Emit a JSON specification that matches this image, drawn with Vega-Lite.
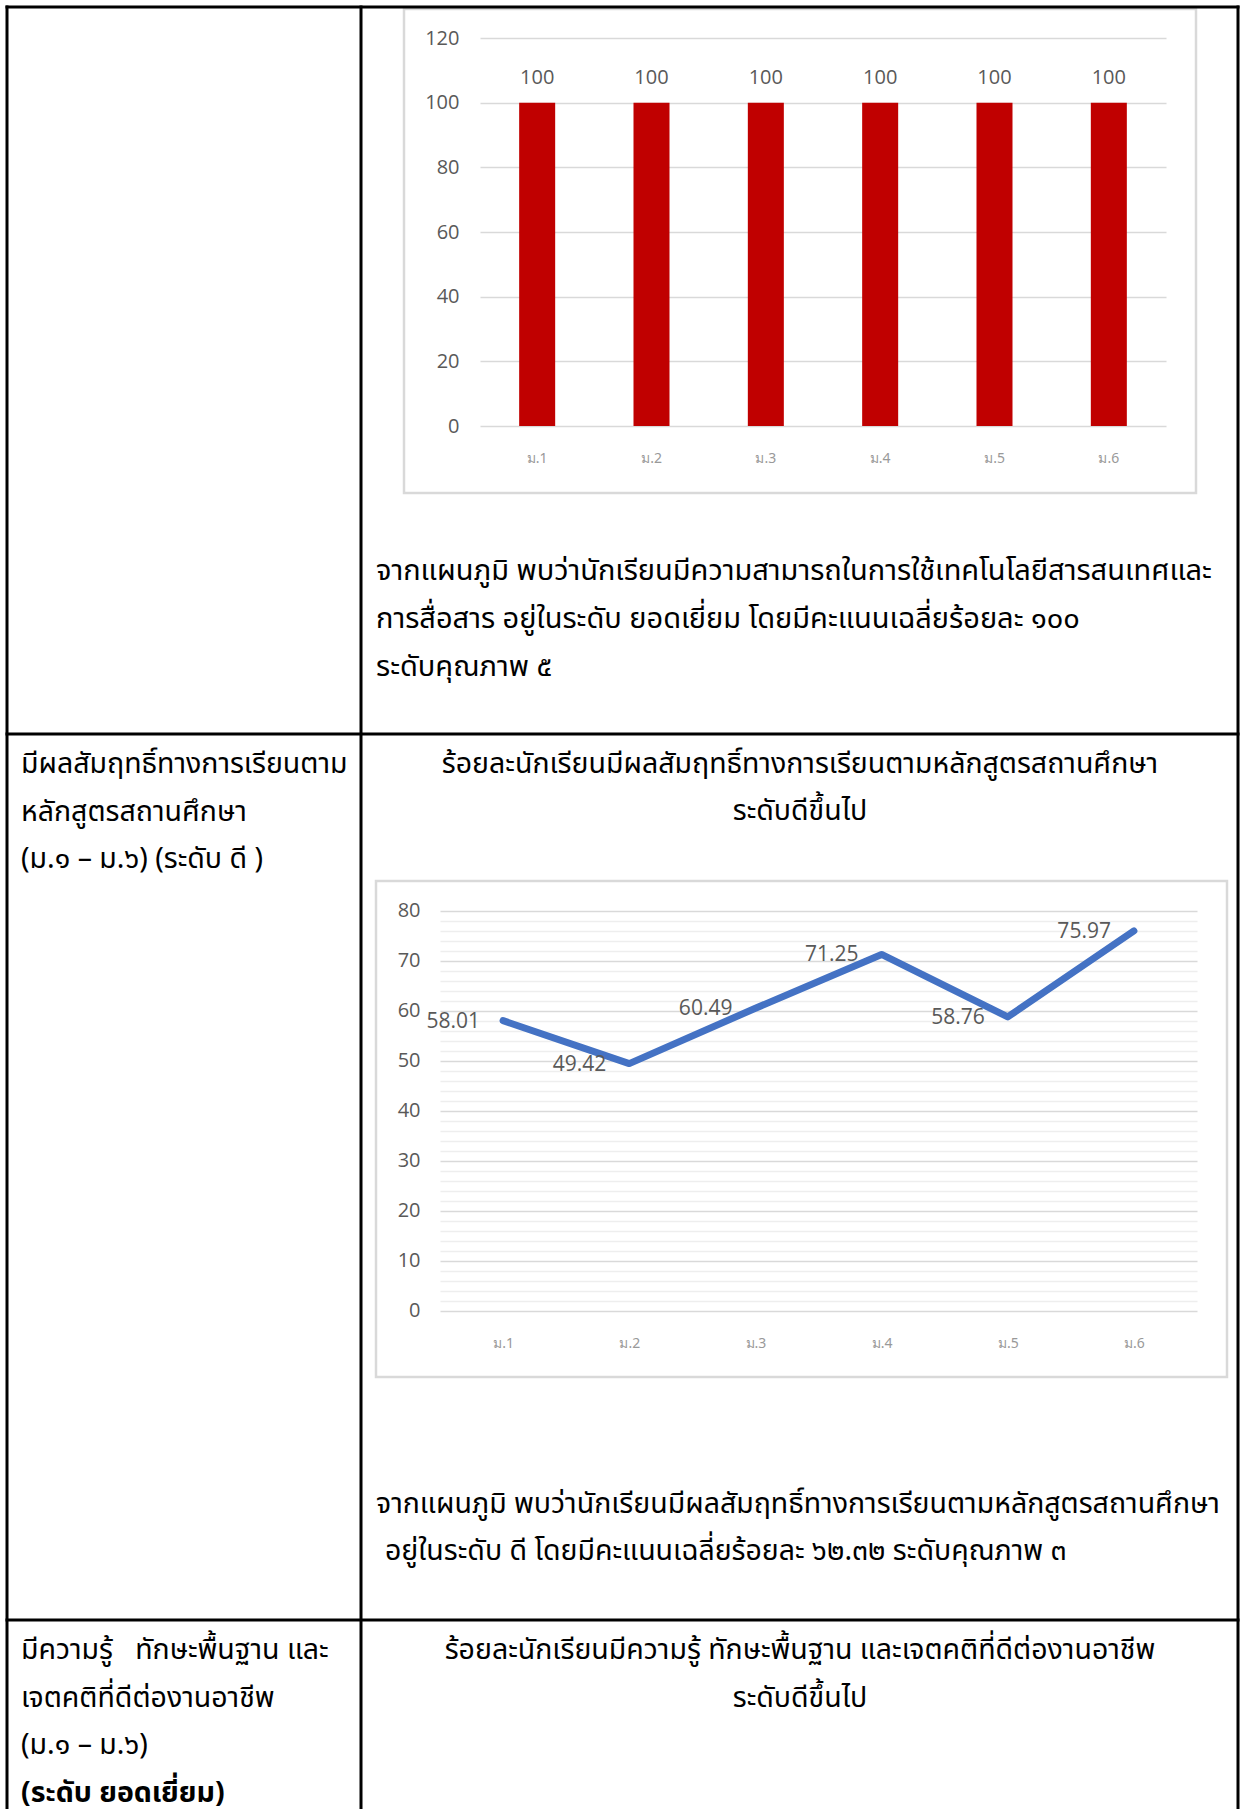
{
  "$schema": "https://vega.github.io/schema/vega-lite/v6.json",
  "width": 1240,
  "height": 1809,
  "autosize": "none",
  "padding": 0,
  "background": "#ffffff",
  "config": {"view": {"stroke": null}},
  "resolve": {
    "scale": {"x": "independent", "y": "independent"},
    "axis": {"x": "independent", "y": "independent"}
  },
  "layer": [
    {
      "data": {"values": [{}]},
      "mark": {"type": "rect", "fill": null, "stroke": "#d9d9d9", "strokeWidth": 2.5},
      "encoding": {"x": {"value": 404}, "x2": {"value": 1196}, "y": {"value": 9}, "y2": {"value": 493}}
    },
    {
      "data": {"values": [{}]},
      "mark": {"type": "rect", "fill": null, "stroke": "#d9d9d9", "strokeWidth": 2.5},
      "encoding": {"x": {"value": 376}, "x2": {"value": 1227}, "y": {"value": 881}, "y2": {"value": 1377}}
    },
    {
      "data": {"values": [
        {"grade": "ม.1", "pct": 100},
        {"grade": "ม.2", "pct": 100},
        {"grade": "ม.3", "pct": 100},
        {"grade": "ม.4", "pct": 100},
        {"grade": "ม.5", "pct": 100},
        {"grade": "ม.6", "pct": 100}
      ]},
      "encoding": {
        "x": {
          "field": "grade", "type": "nominal", "sort": null,
          "scale": {"range": [480, 1166], "paddingInner": 0.685, "paddingOuter": 0.3425},
          "axis": {"orient": "bottom", "offset": -1351, "domain": false, "ticks": false, "tickSize": 0, "labelPadding": 0, "labelBaseline": "middle", "labelAngle": 0, "labelFont": "Noto Sans", "labelFontSize": 14, "labelColor": "#999999", "title": null, "grid": false}
        },
        "y": {
          "field": "pct", "type": "quantitative",
          "scale": {"domain": [0, 120], "range": [426, 38], "nice": false},
          "axis": {"orient": "left", "offset": -459, "values": [0, 20, 40, 60, 80, 100, 120], "domain": false, "ticks": false, "tickSize": 0, "labelPadding": 0, "labelFont": "Open Sans", "labelFontSize": 20, "labelColor": "#595959", "grid": true, "gridColor": "#d9d9d9", "gridWidth": 1.5, "title": null}
        }
      },
      "layer": [
        {"mark": {"type": "bar", "color": "#C00000"}},
        {"mark": {"type": "text", "font": "Open Sans", "fontSize": 20, "color": "#595959", "dy": -25, "baseline": "middle"},
         "encoding": {"text": {"field": "pct", "type": "quantitative"}}}
      ]
    },
    {
      "data": {"values": [
        {"grade": "ม.1", "pct": 58.01},
        {"grade": "ม.2", "pct": 49.42},
        {"grade": "ม.3", "pct": 60.49},
        {"grade": "ม.4", "pct": 71.25},
        {"grade": "ม.5", "pct": 58.76},
        {"grade": "ม.6", "pct": 75.97}
      ]},
      "mark": {"type": "point", "opacity": 0},
      "encoding": {
        "x": {
          "field": "grade", "type": "nominal", "sort": null,
          "scale": {"type": "point", "range": [440, 1197], "padding": 0.5},
          "axis": null
        },
        "y": {
          "field": "pct", "type": "quantitative",
          "scale": {"domain": [0, 80], "range": [1310.7, 910.7], "nice": false},
          "axis": {"orient": "left", "offset": -420, "values": [2, 4, 6, 8, 12, 14, 16, 18, 22, 24, 26, 28, 32, 34, 36, 38, 42, 44, 46, 48, 52, 54, 56, 58, 62, 64, 66, 68, 72, 74, 76, 78],
            "labels": false, "domain": false, "ticks": false, "tickSize": 0, "grid": true, "gridColor": "#eeeeee", "gridWidth": 1.5, "title": null}
        }
      }
    },
    {
      "data": {"values": [
        {"grade": "ม.1", "pct": 58.01},
        {"grade": "ม.2", "pct": 49.42},
        {"grade": "ม.3", "pct": 60.49},
        {"grade": "ม.4", "pct": 71.25},
        {"grade": "ม.5", "pct": 58.76},
        {"grade": "ม.6", "pct": 75.97}
      ]},
      "encoding": {
        "x": {
          "field": "grade", "type": "nominal", "sort": null,
          "scale": {"type": "point", "range": [440, 1197], "padding": 0.5},
          "axis": {"orient": "bottom", "offset": -466, "domain": false, "ticks": false, "tickSize": 0, "labelPadding": 0, "labelBaseline": "middle", "labelAngle": 0, "labelFont": "Noto Sans", "labelFontSize": 14, "labelColor": "#999999", "title": null, "grid": false}
        },
        "y": {
          "field": "pct", "type": "quantitative",
          "scale": {"domain": [0, 80], "range": [1310.7, 910.7], "nice": false},
          "axis": {"orient": "left", "offset": -420, "values": [0, 10, 20, 30, 40, 50, 60, 70, 80],
            "domain": false, "ticks": false, "tickSize": 0, "labelPadding": 0, "labelFont": "Open Sans", "labelFontSize": 20, "labelColor": "#595959",
            "grid": true, "gridColor": "#d9d9d9", "gridWidth": 1.5, "title": null}
        }
      },
      "layer": [
        {"mark": {"type": "line", "color": "#4472C4", "strokeWidth": 7, "strokeCap": "round", "strokeJoin": "round"}},
        {"mark": {"type": "text", "font": "Open Sans", "fontSize": 21, "color": "#595959", "align": "right", "dx": -23, "dy": 1, "baseline": "middle"},
         "encoding": {"text": {"field": "pct", "type": "quantitative", "format": ".2f"}}}
      ]
    },
    {
      "data": {"values": [{}]},
      "mark": {"type": "rule", "color": "#000000", "strokeWidth": 3},
      "encoding": {"x": {"value": 5.5}, "x2": {"value": 1239.5}, "y": {"value": 7}}
    },
    {
      "data": {"values": [{}]},
      "mark": {"type": "rule", "color": "#000000", "strokeWidth": 3},
      "encoding": {"x": {"value": 5.5}, "x2": {"value": 1239.5}, "y": {"value": 734}}
    },
    {
      "data": {"values": [{}]},
      "mark": {"type": "rule", "color": "#000000", "strokeWidth": 3},
      "encoding": {"x": {"value": 5.5}, "x2": {"value": 1239.5}, "y": {"value": 1620}}
    },
    {
      "data": {"values": [{}]},
      "mark": {"type": "rule", "color": "#000000", "strokeWidth": 3},
      "encoding": {"x": {"value": 7}, "y": {"value": 5.5}, "y2": {"value": 1809}}
    },
    {
      "data": {"values": [{}]},
      "mark": {"type": "rule", "color": "#000000", "strokeWidth": 3},
      "encoding": {"x": {"value": 361}, "y": {"value": 5.5}, "y2": {"value": 1809}}
    },
    {
      "data": {"values": [{}]},
      "mark": {"type": "rule", "color": "#000000", "strokeWidth": 3},
      "encoding": {"x": {"value": 1238}, "y": {"value": 5.5}, "y2": {"value": 1809}}
    },
    {
      "data": {"values": [{}]},
      "mark": {"type": "text", "font": "Noto Sans Thai", "fontSize": 29, "color": "#000000", "align": "left", "baseline": "middle", "lineHeight": 48,
        "text": ["จากแผนภูมิ พบว่านักเรียนมีความสามารถในการใช้เทคโนโลยีสารสนเทศและ", "การสื่อสาร อยู่ในระดับ ยอดเยี่ยม โดยมีคะแนนเฉลี่ยร้อยละ ๑๐๐", "ระดับคุณภาพ ๕"]},
      "encoding": {"x": {"value": 376}, "y": {"value": 571}}
    },
    {
      "data": {"values": [{}]},
      "mark": {"type": "text", "font": "Noto Sans Thai", "fontSize": 28.5, "color": "#000000", "align": "left", "baseline": "middle", "lineHeight": 47.7,
        "text": ["มีผลสัมฤทธิ์ทางการเรียนตาม", "หลักสูตรสถานศึกษา", "(ม.๑ – ม.๖) (ระดับ ดี )"]},
      "encoding": {"x": {"value": 21}, "y": {"value": 764}}
    },
    {
      "data": {"values": [{}]},
      "mark": {"type": "text", "font": "Noto Sans Thai", "fontSize": 28.5, "color": "#000000", "align": "center", "baseline": "middle", "lineHeight": 47.4,
        "text": ["ร้อยละนักเรียนมีผลสัมฤทธิ์ทางการเรียนตามหลักสูตรสถานศึกษา", "ระดับดีขึ้นไป"]},
      "encoding": {"x": {"value": 800}, "y": {"value": 764}}
    },
    {
      "data": {"values": [{}]},
      "mark": {"type": "text", "font": "Noto Sans Thai", "fontSize": 28.5, "color": "#000000", "align": "left", "baseline": "middle",
        "text": "จากแผนภูมิ พบว่านักเรียนมีผลสัมฤทธิ์ทางการเรียนตามหลักสูตรสถานศึกษา"},
      "encoding": {"x": {"value": 376}, "y": {"value": 1504}}
    },
    {
      "data": {"values": [{}]},
      "mark": {"type": "text", "font": "Noto Sans Thai", "fontSize": 28.5, "color": "#000000", "align": "left", "baseline": "middle",
        "text": "อยู่ในระดับ ดี โดยมีคะแนนเฉลี่ยร้อยละ ๖๒.๓๒ ระดับคุณภาพ ๓"},
      "encoding": {"x": {"value": 385}, "y": {"value": 1551}}
    },
    {
      "data": {"values": [{}]},
      "mark": {"type": "text", "font": "Noto Sans Thai", "fontSize": 28.5, "color": "#000000", "align": "left", "baseline": "middle", "lineHeight": 47.7,
        "text": ["มีความรู้\u00a0\u00a0 ทักษะพื้นฐาน และ", "เจตคติที่ดีต่องานอาชีพ", "(ม.๑ – ม.๖)"]},
      "encoding": {"x": {"value": 21}, "y": {"value": 1650}}
    },
    {
      "data": {"values": [{}]},
      "mark": {"type": "text", "font": "Noto Sans Thai", "fontSize": 28.5, "fontWeight": "bold", "color": "#000000", "align": "left", "baseline": "middle",
        "text": "(ระดับ ยอดเยี่ยม)"},
      "encoding": {"x": {"value": 21}, "y": {"value": 1793}}
    },
    {
      "data": {"values": [{}]},
      "mark": {"type": "text", "font": "Noto Sans Thai", "fontSize": 28.5, "color": "#000000", "align": "center", "baseline": "middle", "lineHeight": 47.5,
        "text": ["ร้อยละนักเรียนมีความรู้ ทักษะพื้นฐาน และเจตคติที่ดีต่องานอาชีพ", "ระดับดีขึ้นไป"]},
      "encoding": {"x": {"value": 800}, "y": {"value": 1650}}
    }
  ]
}
